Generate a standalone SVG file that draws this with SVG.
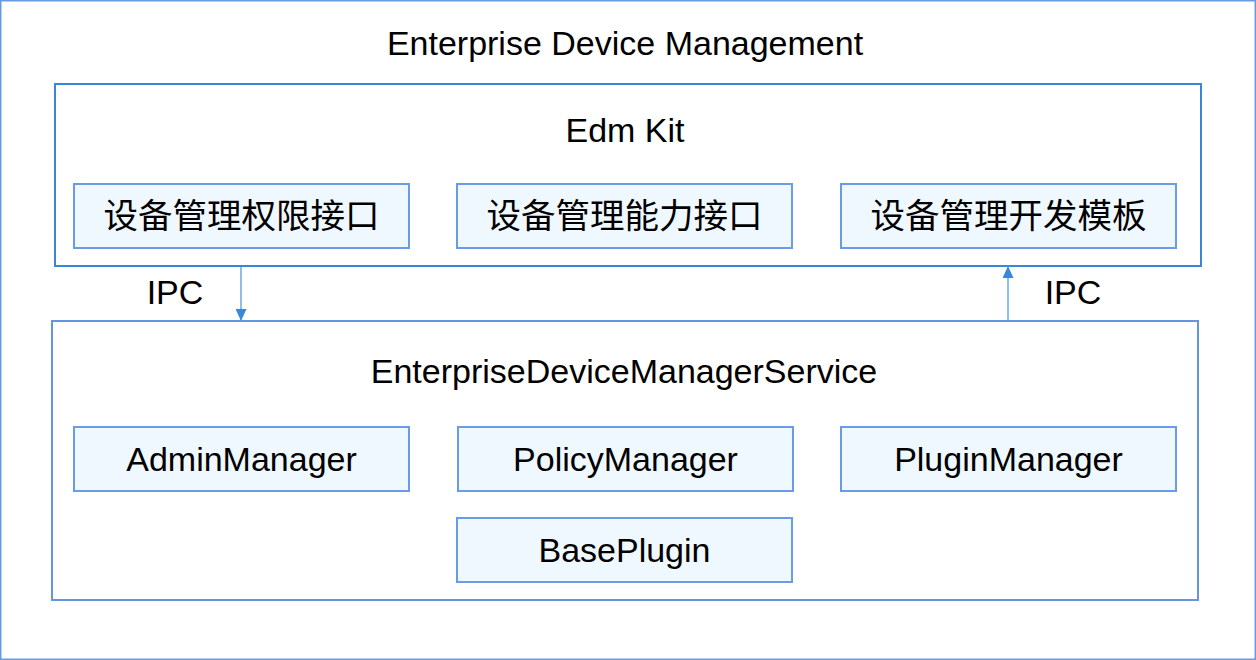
<svg xmlns="http://www.w3.org/2000/svg" width="1256" height="660" viewBox="0 0 1256 660">
<style>
.t{font-family:"Liberation Sans",Arial,sans-serif;font-size:34px;fill:#000;text-anchor:middle}
.c{font-family:"Noto Sans CJK SC","Liberation Sans",sans-serif;font-size:34.5px;fill:#000;text-anchor:middle}
.big{fill:#fff;stroke-width:2}
.sub{fill:#f0f8ff;stroke:#6a9be4;stroke-width:2}
.conn{stroke:#6aa8e8;stroke-width:1.5;fill:none}
</style>
<defs>
<marker id="ah" markerUnits="userSpaceOnUse" markerWidth="12" markerHeight="11" refX="12" refY="5.5" orient="auto">
<path d="M0,0 L12,5.5 L0,11 Z" fill="#3a88da"/>
</marker>
</defs>
<rect id="outer" x="0.75" y="0.75" width="1254.5" height="658.5" fill="#fff" stroke="#6a9ae0" stroke-width="1.5"/>
<text class="t" x="625" y="55">Enterprise Device Management</text>
<g id="edmkit">
<rect class="big" x="55" y="84" width="1146" height="182" stroke="#3a86d6"/>
<text class="t" x="625" y="142">Edm Kit</text>
</g>
<g id="perm"><rect class="sub" x="74" y="184" width="335" height="64"/><text class="c" x="241.5" y="228">设备管理权限接口</text></g>
<g id="cap"><rect class="sub" x="457" y="184" width="335" height="64"/><text class="c" x="624.5" y="228">设备管理能力接口</text></g>
<g id="tmpl"><rect class="sub" x="841" y="184" width="335" height="64"/><text class="c" x="1008.5" y="228">设备管理开发模板</text></g>
<g id="service">
<rect class="big" x="52" y="321" width="1146" height="279" stroke="#6496e0"/>
<text class="t" x="624" y="383">EnterpriseDeviceManagerService</text>
</g>
<g id="admin"><rect class="sub" x="74" y="427" width="335" height="64"/><text class="t" x="241.5" y="471">AdminManager</text></g>
<g id="policy"><rect class="sub" x="458" y="427" width="335" height="64"/><text class="t" x="625.5" y="471">PolicyManager</text></g>
<g id="plugin"><rect class="sub" x="841" y="427" width="335" height="64"/><text class="t" x="1008.5" y="471">PluginManager</text></g>
<g id="baseplugin"><rect class="sub" x="457" y="518" width="335" height="64"/><text class="t" x="624.5" y="562">BasePlugin</text></g>
<g id="connectors">
<line class="conn" x1="241" y1="267" x2="241" y2="321" marker-end="url(#ah)"/>
<line class="conn" x1="1008" y1="320" x2="1008" y2="266" marker-end="url(#ah)"/>
<text class="t" x="175" y="304">IPC</text>
<text class="t" x="1073" y="304">IPC</text>
</g>
</svg>
